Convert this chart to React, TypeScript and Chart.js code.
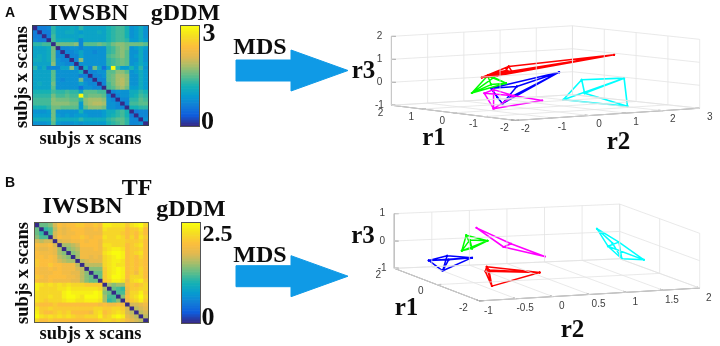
import React, { useEffect, useRef } from "react";
import { Chart, registerables } from "chart.js";

Chart.register(...registerables);

// ---------- Dissimilarity matrices (lower triangles, tenths of gDDM) ----------
const matrixA: number[][] = [
  [0],
  [6, 0],
  [6, 6, 0],
  [7, 6, 6, 0],
  [13, 13, 14, 14, 0],
  [10, 10, 10, 11, 16, 0],
  [10, 10, 10, 11, 16, 7, 0],
  [10, 11, 10, 11, 16, 7, 7, 0],
  [11, 11, 10, 11, 16, 8, 7, 7, 0],
  [10, 10, 10, 10, 17, 8, 8, 7, 7, 0],
  [13, 9, 11, 7, 7, 7, 10, 10, 17, 8, 0],
  [10, 10, 10, 10, 15, 8, 8, 8, 8, 8, 11, 0],
  [10, 10, 10, 10, 15, 8, 8, 8, 8, 8, 6, 7, 0],
  [10, 10, 10, 10, 15, 8, 7, 8, 8, 8, 16, 7, 7, 0],
  [10, 11, 10, 10, 16, 8, 8, 8, 8, 8, 10, 8, 7, 7, 0],
  [10, 10, 10, 10, 15, 8, 8, 8, 8, 8, 5, 8, 8, 7, 7, 0],
  [12, 12, 12, 12, 14, 13, 13, 14, 13, 13, 10, 15, 15, 15, 14, 14, 0],
  [13, 13, 13, 13, 16, 14, 14, 15, 14, 14, 30, 15, 16, 16, 16, 15, 7, 0],
  [14, 14, 14, 14, 17, 16, 16, 16, 15, 15, 13, 17, 18, 18, 18, 17, 8, 7, 0],
  [14, 14, 14, 14, 17, 17, 17, 17, 16, 16, 9, 17, 18, 19, 19, 18, 8, 8, 7, 0],
  [12, 12, 12, 13, 16, 16, 15, 15, 15, 15, 9, 15, 17, 17, 17, 16, 8, 8, 7, 7, 0],
  [8, 8, 8, 9, 16, 8, 8, 8, 8, 8, 12, 8, 8, 8, 8, 9, 11, 11, 13, 14, 12, 0],
  [9, 9, 9, 9, 16, 9, 8, 9, 8, 9, 9, 9, 8, 8, 8, 9, 11, 12, 13, 14, 12, 6, 0],
  [11, 11, 11, 11, 16, 11, 11, 11, 11, 11, 13, 11, 11, 11, 11, 11, 13, 14, 15, 15, 13, 7, 7, 0],
  [8, 8, 8, 9, 15, 9, 8, 8, 8, 9, 8, 9, 9, 9, 9, 9, 12, 13, 14, 15, 13, 7, 7, 8, 0],
];

const matrixB: number[][] = [
  [0],
  [13, 0],
  [13, 11, 0],
  [14, 12, 12, 0],
  [17, 16, 17, 17, 0],
  [20, 19, 19, 20, 17, 0],
  [19, 18, 18, 19, 18, 15, 0],
  [20, 19, 19, 19, 18, 15, 14, 0],
  [20, 20, 19, 20, 19, 16, 15, 14, 0],
  [21, 20, 20, 20, 19, 17, 16, 15, 15, 0],
  [21, 20, 20, 21, 20, 20, 19, 19, 19, 16, 0],
  [20, 19, 19, 20, 19, 20, 19, 19, 19, 17, 16, 0],
  [20, 19, 19, 19, 20, 20, 19, 19, 18, 18, 16, 14, 0],
  [21, 20, 19, 20, 20, 20, 20, 19, 19, 18, 16, 14, 13, 0],
  [20, 19, 19, 20, 19, 19, 19, 19, 18, 18, 16, 14, 13, 13, 0],
  [24, 23, 22, 23, 22, 23, 22, 23, 22, 22, 22, 21, 21, 21, 21, 0],
  [24, 22, 22, 22, 22, 23, 23, 24, 23, 23, 23, 23, 23, 23, 22, 15, 0],
  [23, 22, 22, 22, 22, 22, 24, 25, 24, 24, 24, 24, 24, 25, 24, 14, 13, 0],
  [23, 22, 22, 23, 22, 22, 24, 25, 25, 24, 23, 25, 25, 25, 24, 15, 12, 12, 0],
  [23, 22, 21, 22, 22, 22, 23, 24, 24, 23, 23, 24, 24, 24, 23, 15, 11, 12, 14, 0],
  [21, 20, 20, 20, 21, 20, 20, 20, 20, 20, 20, 20, 20, 20, 19, 20, 19, 19, 20, 19, 0],
  [23, 21, 21, 22, 21, 21, 21, 21, 21, 21, 21, 21, 21, 22, 22, 21, 21, 22, 22, 21, 17, 0],
  [24, 21, 20, 20, 21, 22, 21, 22, 20, 20, 20, 20, 19, 22, 23, 20, 21, 22, 23, 22, 17, 16, 0],
  [25, 23, 22, 23, 22, 23, 22, 23, 22, 21, 21, 22, 22, 22, 24, 21, 22, 24, 25, 24, 18, 17, 16, 0],
  [22, 20, 20, 21, 20, 20, 20, 20, 20, 20, 20, 20, 20, 20, 21, 22, 22, 21, 22, 21, 19, 18, 17, 16, 0],
];

const scaleMaxA = 30;
const scaleMaxB = 25;

// ---------- MDS wireframes in view-plane units ----------
type N = [number, number];
type E = [number, number];

const redNodesA: N[] = [[2.68, 2.86], [-0.18, 2.35], [-0.25, 2.17], [-0.91, 1.87], [-0.09, 2.12], [-0.75, 1.98], [-0.49, 1.94]];
const redEdgesA: E[] = [[0, 1], [0, 3], [0, 4], [0, 6], [0, 5], [1, 3], [1, 2], [2, 4], [1, 4], [3, 4], [3, 6], [2, 5]];
const greenNodesA: N[] = [[-1.18, 1.19], [-0.75, 1.94], [-0.25, 1.62], [-0.58, 1.87], [-0.66, 1.56]];
const greenEdgesA: E[] = [[0, 1], [0, 2], [0, 3], [0, 4], [1, 2], [1, 3], [3, 2], [1, 4], [4, 2]];
const blueNodesA: N[] = [[1.19, 2.1], [-0.66, 1.4], [-0.35, 0.73], [0.04, 1.48], [-0.49, 1.01], [-0.13, 1.01]];
const blueEdgesA: E[] = [[0, 1], [0, 2], [0, 3], [0, 5], [1, 2], [1, 3], [2, 3], [1, 4], [4, 2], [5, 2]];
const magentaNodesA: N[] = [[-0.84, 1.18], [-0.59, 0.51], [0.73, 0.87], [-0.59, 1.34], [-0.04, 1.07]];
const magentaEdgesA: E[] = [[0, 1], [1, 2], [0, 4], [3, 1], [3, 0], [4, 2], [3, 4], [1, 4]];
const cyanNodesA: N[] = [[1.3, 0.9], [1.8, 1.77], [2.95, 1.84], [3.04, 0.62], [1.88, 1.18]];
const cyanEdgesA: E[] = [[0, 1], [1, 2], [2, 3], [3, 0], [0, 2], [1, 4], [4, 3], [4, 2], [0, 2]];

const magentaNodesB: N[] = [[-0.04, 2.67], [0.33, 1.97], [0.43, 2.09], [0.89, 1.62]];
const magentaEdgesB: E[] = [[0, 1], [0, 2], [1, 3], [2, 3], [1, 2]];
const cyanNodesB: N[] = [[1.6, 2.64], [1.75, 2.0], [1.9, 2.15], [1.94, 1.54], [2.24, 1.5], [1.81, 2.12]];
const cyanEdgesB: E[] = [[0, 1], [0, 2], [1, 3], [2, 4], [3, 4], [1, 2], [2, 3], [1, 4], [0, 5], [5, 3]];
const greenNodesB: N[] = [[-0.18, 2.4], [-0.24, 1.83], [0.11, 2.2], [-0.13, 2.23], [-0.1, 1.92]];
const greenEdgesB: E[] = [[0, 1], [0, 2], [1, 2], [3, 1], [3, 2], [0, 4], [4, 2], [4, 1], [3, 4]];
const blueNodesB: N[] = [[-0.69, 1.48], [-0.1, 1.58], [-0.5, 1.1], [-0.44, 1.65], [-0.42, 1.5]];
const blueEdgesB: E[] = [[0, 1], [0, 2], [2, 1], [0, 3], [3, 1], [3, 2], [4, 0], [4, 1], [4, 2]];
const redNodesB: N[] = [[0.82, 1.04], [0.1, 1.25], [0.17, 0.54], [0.08, 1.08], [0.13, 1.13]];
const redEdgesB: E[] = [[0, 1], [0, 2], [0, 3], [0, 4], [1, 2], [3, 2], [1, 3], [4, 2], [1, 4]];

// ---------- Axis ticks ----------
const r1TicksA = [-2, -1, 0, 1, 2];
const r2TicksA = [-2, -1, 0, 1, 2, 3];
const r3TicksA = [-1, 0, 1, 2];
const r1TicksB = [-2, 0, 2];
const r2TicksB = [-1, -0.5, 0, 0.5, 1, 1.5, 2];
const r3TicksB = [-1, 0, 1];

// ---------- Helpers ----------
const parulaStops = [
  [53, 42, 135], [15, 92, 221], [18, 125, 216], [7, 156, 207], [21, 177, 180], [89, 189, 140],
  [165, 190, 107], [226, 185, 80], [252, 190, 61], [245, 220, 36], [249, 251, 14],
];
function parula(f: number) {
  const p = Math.max(0, Math.min(1, f)) * 10;
  const i = Math.min(9, Math.floor(p));
  const t = p - i;
  const c = parulaStops[i].map((v, k) => Math.round(v + (parulaStops[i + 1][k] - v) * t));
  return `rgb(${c[0]},${c[1]},${c[2]})`;
}

function heatConfig(m: number[][], max: number): any {
  const n = m.length;
  const labels = m.map((_, i) => String(i + 1));
  const at = (r: number, c: number) => (c <= r ? m[r][c] : m[c][r]);
  return {
    type: "bar",
    data: {
      labels,
      datasets: m.map((_, r) => ({
        data: labels.map(() => 1),
        backgroundColor: labels.map((_l, c) => parula(at(r, c) / max)),
        borderWidth: 0,
        barPercentage: 1,
        categoryPercentage: 1,
      })),
    },
    options: {
      ...baseOptions,
      scales: {
        x: { stacked: true, display: false },
        y: { stacked: true, display: false, reverse: true, min: 0, max: n },
      },
    },
  };
}

const baseOptions = {
  responsive: false,
  animation: false,
  events: [] as string[],
  layout: { padding: 0 },
  plugins: { legend: { display: false }, tooltip: { enabled: false }, title: { display: false } },
};

const colorbarLevels = Array.from({ length: 64 }, (_, i) => i);
function colorbarConfig(): any {
  return {
    type: "bar",
    data: {
      labels: ["gDDM"],
      datasets: colorbarLevels.map((l) => ({
        data: [1],
        backgroundColor: parula(1 - l / 63),
        borderWidth: 0,
        barPercentage: 1,
        categoryPercentage: 1,
      })),
    },
    options: {
      ...baseOptions,
      scales: {
        x: { stacked: true, display: false },
        y: { stacked: true, display: false, reverse: true, min: 0, max: colorbarLevels.length },
      },
    },
  };
}

type Wire = { color: string; nodes: N[]; edges: E[]; width: number };
type Panel = {
  front: N; left: N; right: N; back: N;
  r1: number[]; r2: number[]; r3: number[];
  uRange: N; vRange: N;
  r1Off: N; r2Off: N; r3Off: N;
  wires: Wire[];
};

function project(p: Panel, a: number, b: number, c: number): N {
  const s = (a - p.r1[0]) / (p.r1[p.r1.length - 1] - p.r1[0]);
  const t = (b - p.r2[0]) / (p.r2[p.r2.length - 1] - p.r2[0]);
  const mix = (k: 0 | 1) =>
    p.front[k] * (1 - s) * (1 - t) + p.left[k] * s * (1 - t) + p.right[k] * (1 - s) * t + p.back[k] * s * t;
  return [mix(0), mix(1) + (c - p.r3[0])];
}

const GAP = { x: NaN, y: NaN };
const pt = (n: N) => ({ x: n[0], y: n[1] });

function panelConfig(p: Panel): any {
  const a0 = p.r1[0], a1 = p.r1[p.r1.length - 1];
  const b0 = p.r2[0], b1 = p.r2[p.r2.length - 1];
  const c0 = p.r3[0], c1 = p.r3[p.r3.length - 1];
  const grid: any[] = [];
  const seg = (u: N, v: N, out: any[]) => out.push(pt(u), pt(v), GAP);
  p.r1.forEach((a) => {
    seg(project(p, a, b0, c0), project(p, a, b1, c0), grid);
    seg(project(p, a, b1, c0), project(p, a, b1, c1), grid);
  });
  p.r2.forEach((b) => {
    seg(project(p, a0, b, c0), project(p, a1, b, c0), grid);
    seg(project(p, a1, b, c0), project(p, a1, b, c1), grid);
  });
  p.r3.forEach((c) => {
    seg(project(p, a1, b0, c), project(p, a1, b1, c), grid);
    seg(project(p, a1, b1, c), project(p, a0, b1, c), grid);
  });
  const axes: any[] = [];
  seg(project(p, a0, b0, c0), project(p, a1, b0, c0), axes);
  seg(project(p, a0, b0, c0), project(p, a0, b1, c0), axes);
  seg(project(p, a1, b0, c0), project(p, a1, b0, c1), axes);
  const db = (b1 - b0) * 0.02, da = (a1 - a0) * 0.035;
  p.r1.forEach((a) => seg(project(p, a, b0, c0), project(p, a, b0 + db, c0), axes));
  p.r2.forEach((b) => seg(project(p, a0, b, c0), project(p, a0 + da, b, c0), axes));
  p.r3.forEach((c) => {
    const q = project(p, a1, b0, c);
    seg(q, [q[0] + (p.uRange[1] - p.uRange[0]) * 0.012, q[1]], axes);
  });
  const datasets: any[] = [
    { data: grid, showLine: true, borderColor: "#e3e3e3", borderWidth: 0.8, pointRadius: 0, spanGaps: false },
    { data: axes, showLine: true, borderColor: "#4d4d4d", borderWidth: 0.8, pointRadius: 0, spanGaps: false },
  ];
  p.wires.forEach((w) => {
    const d: any[] = [];
    w.edges.forEach(([i, j]) => d.push(pt(w.nodes[i]), pt(w.nodes[j]), GAP));
    datasets.push({
      data: d, showLine: true, borderColor: w.color, backgroundColor: w.color,
      borderWidth: w.width, pointRadius: 1, pointBorderWidth: 0, spanGaps: false, borderCapStyle: "round",
    });
  });
  const tickLabels = {
    id: "tickLabels3d",
    afterDatasetsDraw(chart: any) {
      const { ctx, scales } = chart;
      ctx.save();
      ctx.font = '10px "Liberation Sans"';
      ctx.fillStyle = "#404040";
      ctx.textAlign = "center";
      ctx.textBaseline = "middle";
      const put = (q: N, off: N, text: string) =>
        ctx.fillText(text, scales.x.getPixelForValue(q[0]) + off[0], scales.y.getPixelForValue(q[1]) + off[1]);
      p.r1.forEach((a) => put(project(p, a, b0, c0), p.r1Off, String(a)));
      p.r2.forEach((b) => put(project(p, a0, b, c0), p.r2Off, String(b)));
      p.r3.forEach((c) => put(project(p, a1, b0, c), p.r3Off, String(c)));
      ctx.restore();
    },
  };
  return {
    type: "scatter",
    data: { datasets },
    plugins: [tickLabels],
    options: {
      ...baseOptions,
      scales: {
        x: { type: "linear", display: false, min: p.uRange[0], max: p.uRange[1] },
        y: { type: "linear", display: false, min: p.vRange[0], max: p.vRange[1] },
      },
    },
  };
}

const panelA: Panel = {
  front: [0, 0], left: [-3.36, 0.66], right: [5.0, 0.53], back: [1.55, 1.12],
  r1: r1TicksA, r2: r2TicksA, r3: r3TicksA,
  uRange: [-4.646, 5.442], vRange: [-2.42, 4.633],
  r1Off: [-11, 8], r2Off: [10, 9], r3Off: [-12, 0],
  wires: [
    { color: "#00ffff", nodes: cyanNodesA, edges: cyanEdgesA, width: 1.6 },
    { color: "#ff00ff", nodes: magentaNodesA, edges: magentaEdgesA, width: 1.5 },
    { color: "#ff0000", nodes: redNodesA, edges: redEdgesA, width: 1.5 },
    { color: "#00ff00", nodes: greenNodesA, edges: greenEdgesA, width: 1.5 },
    { color: "#0000ff", nodes: blueNodesA, edges: blueEdgesA, width: 1.5 },
  ],
};

const panelB: Panel = {
  front: [0, 0], left: [-1.16, 1.19], right: [3.0, 0.47], back: [1.91, 1.54],
  r1: r1TicksB, r2: r2TicksB, r3: r3TicksB,
  uRange: [-1.844, 3.222], vRange: [-1.503, 3.908],
  r1Off: [-16, 7], r2Off: [9, 10], r3Off: [-12, 0],
  wires: [
    { color: "#00ffff", nodes: cyanNodesB, edges: cyanEdgesB, width: 1.5 },
    { color: "#ff00ff", nodes: magentaNodesB, edges: magentaEdgesB, width: 1.6 },
    { color: "#ff0000", nodes: redNodesB, edges: redEdgesB, width: 1.5 },
    { color: "#00ff00", nodes: greenNodesB, edges: greenEdgesB, width: 1.5 },
    { color: "#0000ff", nodes: blueNodesB, edges: blueEdgesB, width: 1.5 },
  ],
};

// ---------- Components ----------
function Plot(props: { x: number; y: number; w: number; h: number; make: () => any; border?: string }) {
  const ref = useRef<HTMLCanvasElement>(null);
  useEffect(() => {
    const c = new Chart(ref.current as HTMLCanvasElement, props.make());
    return () => c.destroy();
  }, []);
  return (
    <>
      <canvas
        ref={ref}
        width={props.w}
        height={props.h}
        style={{ position: "absolute", left: props.x, top: props.y, width: props.w, height: props.h }}
      />
      {props.border ? (
        <div
          style={{
            position: "absolute", left: props.x - 1, top: props.y - 1, width: props.w, height: props.h,
            border: props.border, pointerEvents: "none",
          }}
        />
      ) : null}
    </>
  );
}

function T(props: { x: number; base: number; size: number; text: string; bold?: boolean; sans?: boolean }) {
  const s = props.size;
  return (
    <div
      style={{
        position: "absolute", left: props.x, top: props.base - 0.8375 * s, transform: "translateX(-50%)",
        font: `${props.bold === false ? "normal" : "bold"} ${s}px/1 ${props.sans ? '"Liberation Sans"' : '"Liberation Serif"'}`,
        color: "#0d0d0d", whiteSpace: "nowrap",
      }}
    >
      {props.text}
    </div>
  );
}

function V(props: { x: number; y: number; size: number; text: string }) {
  return (
    <div
      style={{
        position: "absolute", left: props.x, top: props.y, transform: "translate(-50%,-50%) rotate(-90deg)",
        font: `bold ${props.size}px/1 "Liberation Serif"`, color: "#0d0d0d", whiteSpace: "nowrap",
      }}
    >
      {props.text}
    </div>
  );
}

function Arrow(props: { y: number }) {
  const y = props.y;
  const pts = [
    [236, y - 10.5], [291, y - 10.5], [291, y - 20.5], [348, y], [291, y + 20.5], [291, y + 10.5], [236, y + 10.5],
  ].map((q) => q.join(",")).join(" ");
  return (
    <svg width={720} height={346} style={{ position: "absolute", left: 0, top: 0 }}>
      <polygon points={pts} fill="#0f9ae6" stroke="#0f9ae6" strokeWidth={1} strokeLinejoin="round" />
    </svg>
  );
}

export default function App() {
  return (
    <div style={{ position: "fixed", left: 0, top: 0, width: 720, height: 346, background: "#fff", overflow: "hidden" }}>
      <Plot x={340} y={10} w={380} h={170} make={() => panelConfig(panelA)} />
      <Plot x={340} y={190} w={380} h={156} make={() => panelConfig(panelB)} />
      <Arrow y={70.5} />
      <Arrow y={276.2} />

      <Plot x={33} y={26} w={115} h={99} make={() => heatConfig(matrixA, scaleMaxA)} border="1px solid #34404d" />
      <Plot x={35} y={223} w={113} h={99} make={() => heatConfig(matrixB, scaleMaxB)} border="1px solid #5a5a4a" />
      <Plot x={181} y={26} w={18} h={100} make={colorbarConfig} border="1px solid #555" />
      <Plot x={182} y={223} w={18} h={100} make={colorbarConfig} border="1px solid #555" />

      <T x={10} base={17} size={14} text="A" sans />
      <T x={10} base={187} size={14} text="B" sans />

      <T x={88.5} base={20} size={24} text="IWSBN" />
      <T x={185.5} base={20} size={24} text="gDDM" />
      <T x={209} base={42} size={26} text="3" />
      <T x={207.5} base={130} size={26} text="0" />
      <T x={90.5} base={144} size={18.5} text="subjs x scans" />
      <V x={21} y={76.5} size={18.5} text="subjs x scans" />
      <T x={260} base={54} size={24} text="MDS" />
      <T x={363.5} base={78} size={25} text="r3" />
      <T x={434} base={145} size={25} text="r1" />
      <T x={618.5} base={149} size={25} text="r2" />

      <T x={82.5} base={213} size={24} text="IWSBN" />
      <T x={137} base={195} size={24} text="TF" />
      <T x={191} base={216} size={24} text="gDDM" />
      <T x={217.5} base={241} size={24} text="2.5" />
      <T x={208} base={326} size={26} text="0" />
      <T x={90.5} base={339} size={18.5} text="subjs x scans" />
      <V x={22} y={273} size={18.5} text="subjs x scans" />
      <T x={260} base={262.5} size={24} text="MDS" />
      <T x={363} base={243} size={25} text="r3" />
      <T x={406.5} base={315} size={25} text="r1" />
      <T x={572.5} base={337} size={25} text="r2" />
    </div>
  );
}
